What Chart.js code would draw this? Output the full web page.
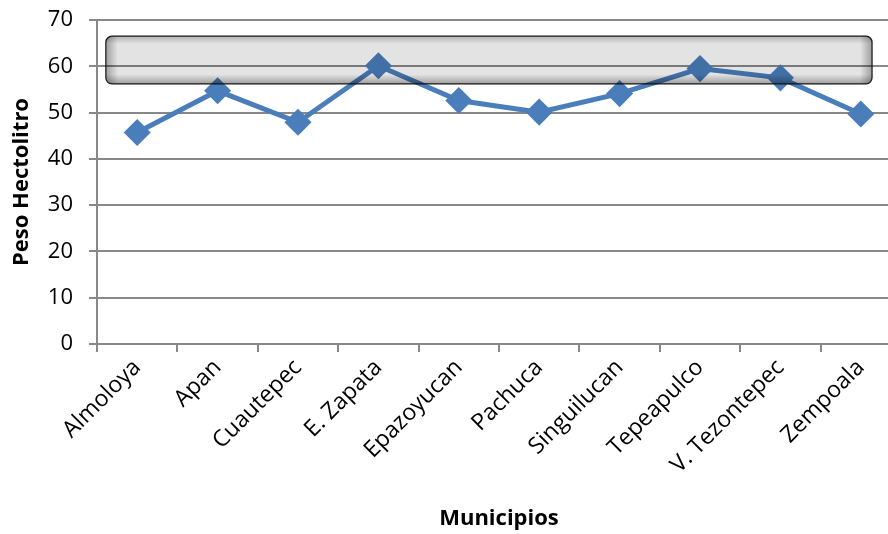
<!DOCTYPE html>
<html lang="es">
<head>
  <meta charset="UTF-8">
  <title>Peso Hectolitro por Municipio</title>
  <script src="https://cdn.jsdelivr.net/npm/chart.js"></script>
  <style>
    html, body { margin: 0; padding: 0; background: #fff; overflow: hidden; }
    #wrap { width: 888px; height: 534px; overflow: hidden; }
  </style>
</head>
<body>
  <!-- the plot runs a little past the right edge of the picture, so the canvas is wider and clipped -->
  <div id="wrap"><canvas id="myChart" width="916" height="534"></canvas></div>

  <script>
    // data
    const municipios = ['Almoloya', 'Apan', 'Cuautepec', 'E. Zapata', 'Epazoyucan', 'Pachuca',
                        'Singuilucan', 'Tepeapulco', 'V. Tezontepec', 'Zempoala'];
    const pesoHectolitro = [45.7, 54.7, 47.9, 60.1, 52.6, 50.1, 54.1, 59.5, 57.5, 49.7];
    const yTicks = [0, 10, 20, 30, 40, 50, 60, 70];
    // the shaded band drawn across the top of the plot (category index / value units)
    const bandX = [-0.39, 9.14];
    const bandY = [56.2, 66.5];

    const gridColor = '#888888';
    const fontFam = '"Open Sans", sans-serif';

    // draws the grey rounded box on top of the line
    const bandPlugin = {
      id: 'band',
      afterDatasetsDraw(chart) {
        const c = chart.ctx;
        const xs = chart.scales.x, ys = chart.scales.y;
        const x0 = xs.getPixelForValue(bandX[0]), x1 = xs.getPixelForValue(bandX[1]);
        const y0 = ys.getPixelForValue(bandY[1]), y1 = ys.getPixelForValue(bandY[0]);
        const w = x1 - x0, h = y1 - y0;
        c.save();
        c.beginPath();
        c.roundRect(x0, y0, w, h, 6);
        c.fillStyle = 'rgba(0,0,0,0.11)';
        c.fill();
        c.clip();
        // darker inner edges
        let g = c.createLinearGradient(0, y0, 0, y1);
        g.addColorStop(0, 'rgba(0,0,0,0.22)');
        g.addColorStop(0.16, 'rgba(0,0,0,0)');
        g.addColorStop(0.8, 'rgba(0,0,0,0)');
        g.addColorStop(1, 'rgba(0,0,0,0.3)');
        c.fillStyle = g;
        c.fillRect(x0, y0, w, h);
        g = c.createLinearGradient(x0, 0, x1, 0);
        g.addColorStop(0, 'rgba(0,0,0,0.3)');
        g.addColorStop(12 / w, 'rgba(0,0,0,0)');
        g.addColorStop(1 - 12 / w, 'rgba(0,0,0,0)');
        g.addColorStop(1, 'rgba(0,0,0,0.3)');
        c.fillStyle = g;
        c.fillRect(x0, y0, w, h);
        c.restore();
        c.save();
        c.beginPath();
        c.roundRect(x0, y0, w, h, 6);
        c.strokeStyle = '#111';
        c.lineWidth = 1.2;
        c.stroke();
        c.restore();
      }
    };

    const ctx = document.getElementById('myChart').getContext('2d');
    new Chart(ctx, {
      type: 'line',
      data: {
        labels: municipios,
        datasets: [{
          label: 'Peso Hectolitro',
          data: pesoHectolitro,
          borderColor: '#4a7ebb',
          backgroundColor: '#4a7ebb',
          borderWidth: 5,
          pointStyle: 'rectRot',
          pointRadius: 10,
          pointHoverRadius: 10,
          fill: false,
          tension: 0
        }]
      },
      options: {
        responsive: false,
        animation: false,
        layout: { padding: { top: 20, right: 0, left: 0, bottom: 0 } },
        plugins: {
          legend: { display: false },
          tooltip: { enabled: false }
        },
        scales: {
          x: {
            offset: true,
            afterFit(axis) { axis.height = 190; },
            grid: { drawOnChartArea: false, drawTicks: true, tickLength: 8, color: gridColor, lineWidth: 2, offset: true },
            border: { color: gridColor, width: 2 },
            ticks: { color: '#000', font: { family: fontFam, size: 23 }, maxRotation: 45, minRotation: 45, padding: 2 },
            title: { display: true, text: 'Municipios', color: '#000', font: { family: fontFam, size: 22, weight: 'bold' }, padding: { top: 0, bottom: 2 } }
          },
          y: {
            min: 0,
            max: 70,
            afterBuildTicks(axis) { axis.ticks = yTicks.map(v => ({ value: v })); },
            afterFit(axis) {
              axis.width = 97;
              // the big label gap should not push the plot down
              axis.paddingTop = 0;
              axis.paddingBottom = 0;
            },
            grid: { color: gridColor, lineWidth: 2, tickLength: 8 },
            border: { color: gridColor, width: 2 },
            ticks: { color: '#000', font: { family: fontFam, size: 22 }, padding: 16 },
            title: { display: true, text: 'Peso Hectolitro', color: '#000', font: { family: fontFam, size: 22, weight: 'bold' }, padding: { top: 9, bottom: 0 } }
          }
        }
      },
      plugins: [bandPlugin]
    });
  </script>
</body>
</html>
